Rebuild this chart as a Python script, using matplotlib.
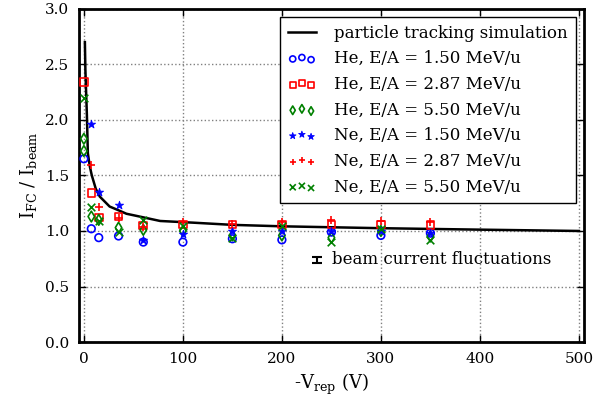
import matplotlib
matplotlib.use("Agg")
import matplotlib.pyplot as plt

plt.rcParams['font.family'] = ['DejaVu Serif']
plt.rcParams['mathtext.fontset'] = 'dejavuserif'
plt.rcParams['font.size'] = 11

# simulation curve
sim_x = [1, 1.5, 3, 4, 6, 8, 12, 16, 21, 26, 34, 43, 51, 77, 110, 150, 200, 300, 400, 500]
sim_y = [2.70, 2.45, 2.05, 1.70, 1.58, 1.50, 1.38, 1.31, 1.265, 1.22, 1.19, 1.155, 1.14,
         1.09, 1.075, 1.055, 1.042, 1.025, 1.012, 1.0]

# measurements
he150_x = [0, 7.5, 15, 35, 60, 100, 150, 200, 250, 300, 350]
he150_y = [1.65, 1.02, 0.94, 0.955, 0.90, 0.90, 0.93, 0.92, 0.99, 0.96, 0.98]

he287_x = [0, 7.5, 15, 35, 60, 100, 150, 200, 250, 300, 350]
he287_y = [2.34, 1.34, 1.12, 1.13, 1.05, 1.06, 1.06, 1.06, 1.06, 1.06, 1.055]

he550_x = [0, 0, 7.5, 15, 35, 60, 100, 150, 200, 250, 300, 350]
he550_y = [1.83, 1.72, 1.13, 1.10, 1.03, 1.01, 1.00, 0.96, 0.96, 0.94, 1.00, 0.95]

ne150_x = [7.5, 15, 35, 60, 100, 150, 200, 250, 300, 350]
ne150_y = [1.96, 1.355, 1.234, 0.92, 0.97, 1.00, 1.00, 1.00, 1.00, 0.985]

ne287_x = [7.5, 15, 35, 60, 100, 150, 200, 250, 300, 350]
ne287_y = [1.595, 1.22, 1.12, 1.04, 1.08, 1.06, 1.085, 1.095, 1.09, 1.085]

ne550_x = [0, 7.5, 15, 35, 60, 100, 150, 200, 250, 300, 350]
ne550_y = [2.20, 1.22, 1.09, 0.99, 1.10, 1.045, 0.94, 1.045, 0.90, 1.02, 0.92]

labels = ['particle tracking simulation',
          'He, E/A = 1.50 MeV/u', 'He, E/A = 2.87 MeV/u', 'He, E/A = 5.50 MeV/u',
          'Ne, E/A = 1.50 MeV/u', 'Ne, E/A = 2.87 MeV/u', 'Ne, E/A = 5.50 MeV/u']

fig = plt.figure(figsize=(6.12, 4.01), dpi=100)
ax = fig.add_axes([0.129, 0.147, 0.825, 0.831])

ax.plot(sim_x, sim_y, color='black', lw=1.8, label=labels[0], zorder=3)
s = 30
ax.scatter(he150_x, he150_y, s=s, marker='o', facecolors='none', edgecolors='blue', linewidths=1.2, label=labels[1], zorder=4)
ax.scatter(he287_x, he287_y, s=s, marker='s', facecolors='none', edgecolors='red', linewidths=1.2, label=labels[2], zorder=4)
ax.scatter(he550_x, he550_y, s=s, marker='d', facecolors='none', edgecolors='green', linewidths=1.2, label=labels[3], zorder=4)
ax.scatter(ne150_x, ne150_y, s=s + 8, marker='*', color='blue', linewidths=0.6, label=labels[4], zorder=4)
ax.scatter(ne287_x, ne287_y, s=s, marker='+', color='red', linewidths=1.2, label=labels[5], zorder=4)
ax.scatter(ne550_x, ne550_y, s=s, marker='x', color='green', linewidths=1.2, label=labels[6], zorder=4)

# beam current fluctuation indicator
ax.errorbar([235], [0.74], yerr=[0.027], fmt='none', ecolor='black', elinewidth=1.5, capsize=3.6, capthick=1.5)
ax.text(251, 0.74, 'beam current fluctuations', va='center', ha='left', fontsize=12)

ax.set_xlim(-5, 505)
ax.set_ylim(0, 3.0)
ax.set_xticks([0, 100, 200, 300, 400, 500])
ax.set_yticks([0.0, 0.5, 1.0, 1.5, 2.0, 2.5, 3.0])
ax.set_yticklabels(['0.0', '0.5', '1.0', '1.5', '2.0', '2.5', '3.0'])
ax.grid(True, linestyle=':', color='gray', lw=1)
ax.tick_params(direction='in', top=True, right=True, length=5, width=1, pad=7)
for sp in ax.spines.values():
    sp.set_linewidth(2)

ax.set_xlabel(r'-V$_\mathrm{rep}$ (V)', fontsize=13)
ax.set_ylabel(r'I$_\mathrm{FC}$ / I$_\mathrm{beam}$', fontsize=13)

leg = ax.legend(loc='upper right', scatterpoints=3, scatteryoffsets=[0.375, 0.5, 0.3125],
                fancybox=False, edgecolor='black', framealpha=1, fontsize=12,
                borderaxespad=0.5, borderpad=0.45, handlelength=1.7, handletextpad=1.1,
                labelspacing=0.52, markerscale=0.8)
leg.get_frame().set_linewidth(1)

fig.savefig('out.png', dpi=100)
